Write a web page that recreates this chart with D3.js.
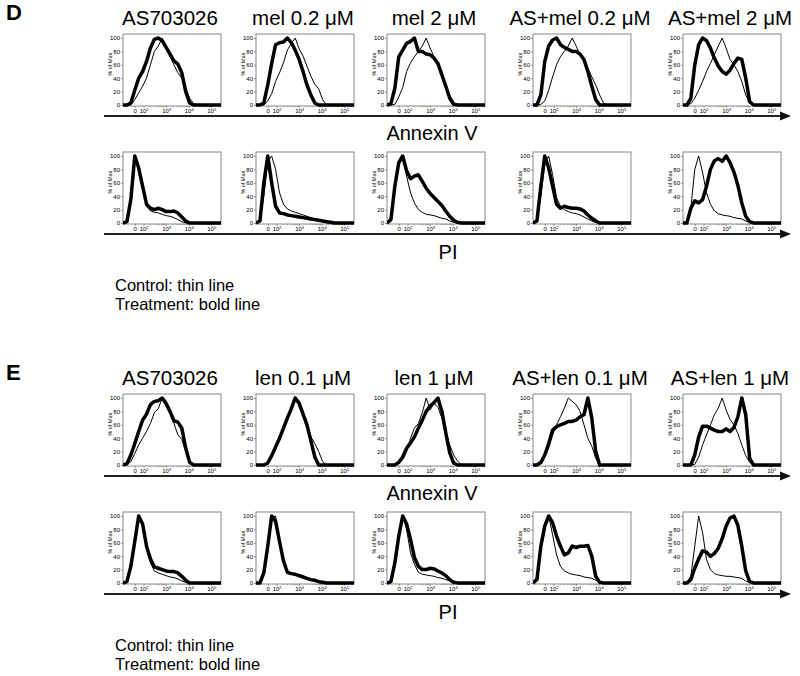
<!DOCTYPE html>
<html><head><meta charset="utf-8">
<script src="https://cdn.jsdelivr.net/npm/d3@7"></script>
<style>
body{margin:0;background:#fff}
svg{display:block}
text{font-family:"Liberation Sans",Arial,Helvetica,sans-serif;fill:#000}
</style>
</head><body>
<svg id="c" width="800" height="676"></svg>
<script>
// ---------- data ----------
const xGrid = [0,4,8,12,16,20,24,28,32,36,40,44,48,52,56,60,64,68,72,76,80,84,88,92,96,100]; // axis position, % of width
const yTicks = [0,20,40,60,80,100];
const xTickPos = [12,21,44,67,90];
const xTickExp = [null,2,3,4,5];
const blockLetters = ["D","E"];
const titlesD = ["AS703026","mel 0.2 \u03bcM","mel 2 \u03bcM","AS+mel 0.2 \u03bcM","AS+mel 2 \u03bcM"];
const titlesE = ["AS703026","len 0.1 \u03bcM","len 1 \u03bcM","AS+len 0.1 \u03bcM","AS+len 1 \u03bcM"];
const axisNames = ["Annexin V","PI"];
const legendLines = ["Control: thin line","Treatment: bold line"];

const dAnnexinTrt = [
 [0,0,3,22,40,50,65,85,98,100,96,86,76,66,61,48,20,3,0,0,0,0,0,0,0,0],
 [0,0,3,30,62,90,93,94,100,93,82,68,50,30,15,3,0,0,0,0,0,0,0,0,0,0],
 [0,2,25,72,82,92,95,100,80,80,76,75,70,62,45,28,10,1,0,0,0,0,0,0,0,0],
 [0,0,15,65,88,97,100,90,86,83,80,80,76,68,50,28,8,0,0,0,0,0,0,0,0,0],
 [0,0,10,60,90,100,96,85,70,58,50,46,52,62,70,68,40,5,0,0,0,0,0,0,0,0]];
const dAnnexinCtrl = [
 [0,0,0,8,18,28,40,60,80,88,100,84,72,60,48,40,25,10,2,0,0,0,0,0,0,0],
 [0,0,0,6,17,35,48,63,82,92,100,84,73,58,43,31,24,8,0,0,0,0,0,0,0,0],
 [0,0,1,12,26,50,63,72,80,88,100,85,72,58,47,30,15,4,0,0,0,0,0,0,0,0],
 [0,0,1,6,22,42,60,72,80,88,100,88,75,66,55,42,30,15,3,0,0,0,0,0,0,0],
 [0,0,2,10,22,35,50,62,75,88,100,85,68,60,50,35,15,3,0,0,0,0,0,0,0,0]];
const dPITrt = [
 [0,2,35,100,82,55,28,22,20,22,20,17,17,18,15,9,3,0,0,0,0,0,0,0,0,0],
 [0,3,60,100,60,25,15,14,12,11,10,9,8,7,6,5,4,3,2,1,0,0,0,0,0,0],
 [0,5,55,90,100,78,66,70,72,62,52,44,38,32,26,18,10,4,1,0,0,0,0,0,0,0],
 [0,3,55,100,82,55,28,22,25,23,22,22,21,18,12,7,3,0,0,0,0,0,0,0,0,0],
 [0,0,22,33,30,35,55,80,93,96,92,100,90,76,56,30,10,2,0,0,0,0,0,0,0,0]];
const dPICtrl = [
 [0,1,30,100,85,55,25,18,16,15,13,11,10,8,5,2,0,0,0,0,0,0,0,0,0,0],
 [0,2,40,92,100,80,45,28,21,18,16,14,12,10,8,6,5,4,3,2,1,0,0,0,0,0],
 [0,4,50,88,100,70,45,30,20,16,13,12,11,9,7,6,3,1,0,0,0,0,0,0,0,0],
 [0,2,40,88,100,72,38,25,20,17,15,14,12,9,6,3,1,0,0,0,0,0,0,0,0,0],
 [0,2,22,80,100,75,45,28,18,14,12,11,10,8,7,6,3,1,0,0,0,0,0,0,0,0]];
const eAnnexinTrt = [
 [0,2,15,32,50,67,76,90,95,96,100,92,80,66,64,55,25,4,0,0,0,0,0,0,0,0],
 [0,0,0,3,14,27,40,55,70,84,100,92,76,60,36,12,0,0,0,0,0,0,0,0,0,0],
 [0,0,0,4,12,25,33,42,55,67,80,88,93,100,80,48,18,3,0,0,0,0,0,0,0,0],
 [0,0,4,15,32,52,57,60,62,65,65,67,72,75,100,70,20,0,0,0,0,0,0,0,0,0],
 [0,0,0,15,42,58,58,55,52,50,50,54,50,56,72,100,75,10,0,0,0,0,0,0,0,0]];
const eAnnexinCtrl = [
 [0,0,5,17,30,40,50,62,78,84,100,88,76,62,45,38,20,6,0,0,0,0,0,0,0,0],
 [0,0,0,2,12,25,38,52,68,82,100,96,80,64,42,32,20,5,0,0,0,0,0,0,0,0],
 [0,0,0,2,8,20,40,55,62,78,100,82,92,86,70,50,30,15,6,0,0,0,0,0,0,0],
 [0,0,1,12,26,45,60,72,85,100,95,90,80,60,40,28,10,0,0,0,0,0,0,0,0,0],
 [0,0,0,1,12,30,45,60,75,85,100,82,68,60,47,30,14,4,0,0,0,0,0,0,0,0]];
const ePITrt = [
 [0,2,25,62,100,88,55,36,24,22,20,18,17,17,15,10,4,0,0,0,0,0,0,0,0,0],
 [0,0,15,55,100,92,62,33,16,14,13,11,9,7,5,4,2,1,0,0,0,0,0,0,0,0],
 [0,2,30,70,100,88,65,38,25,20,20,22,21,18,15,11,5,1,0,0,0,0,0,0,0,0],
 [0,5,55,85,100,90,70,55,42,45,55,53,55,55,56,40,10,1,0,0,0,0,0,0,0,0],
 [0,0,5,22,36,48,46,40,44,52,66,85,97,100,86,55,18,2,0,0,0,0,0,0,0,0]];
const ePICtrl = [
 [0,2,22,60,100,85,52,30,18,15,13,11,9,8,6,3,1,0,0,0,0,0,0,0,0,0],
 [0,0,14,52,98,100,64,34,17,14,12,10,8,6,5,3,2,1,0,0,0,0,0,0,0,0],
 [0,2,28,65,100,80,45,28,16,13,12,11,10,8,7,5,3,1,0,0,0,0,0,0,0,0],
 [0,10,55,90,100,72,42,25,18,15,13,12,11,9,8,7,4,1,0,0,0,0,0,0,0,0],
 [0,0,10,55,100,75,35,20,14,12,11,10,10,9,8,7,3,1,0,0,0,0,0,0,0,0]];

// ---------- layout ----------
const svg = d3.select("#c");
const panelLeft = [123,256,387,533,683];
const panelW = 98, panelH = 72;
const blockOffset = [0,360];
const rowTop = [34,152];
const arrowY = [116,234];
const axisNameX = [432,448];
const axisNameY = [140,259];

const blocks = [
  {titles:titlesD, rows:[[dAnnexinCtrl,dAnnexinTrt],[dPICtrl,dPITrt]]},
  {titles:titlesE, rows:[[eAnnexinCtrl,eAnnexinTrt],[ePICtrl,ePITrt]]}
];

let clipId = 0;
function drawPanel(g, x0, y0, ctrl, trt){
  const xs = d3.scaleLinear().domain([0,100]).range([x0, x0+panelW]);
  const ys = d3.scaleLinear().domain([0,100]).range([y0+panelH-1, y0+4]);
  const id = "clip"+(clipId++);
  g.append("clipPath").attr("id",id).append("rect")
    .attr("x",x0).attr("y",y0-1).attr("width",panelW).attr("height",panelH+2);
  g.append("rect").attr("x",x0).attr("y",y0).attr("width",panelW).attr("height",panelH)
    .attr("fill","none").attr("stroke","#8a8a8a").attr("stroke-width",1);

  const ya = g.append("g").attr("transform",`translate(${x0},0)`)
    .call(d3.axisLeft(ys).tickValues(yTicks).tickSize(2).tickPadding(1));
  ya.select(".domain").remove();
  ya.selectAll("line").attr("stroke","#555").attr("stroke-width",0.6);
  ya.selectAll("text").attr("font-size",6).attr("fill","#222")
    .style("font-family",'"Liberation Sans",Arial,sans-serif');
  g.append("text").attr("transform",`translate(${x0-11},${y0+panelH*0.42}) rotate(-90)`)
    .attr("text-anchor","middle").attr("font-size",5.5).attr("fill","#333").text("% of Max");

  const xa = g.append("g").attr("transform",`translate(0,${y0+panelH})`)
    .call(d3.axisBottom(xs).tickValues(xTickPos).tickSize(2).tickPadding(1).tickFormat(()=>""));
  xa.select(".domain").remove();
  xa.selectAll("line").attr("stroke","#555").attr("stroke-width",0.6);
  xa.selectAll(".tick text").each(function(d,i){
    const t = d3.select(this).attr("font-size",6).attr("fill","#222")
      .style("font-family",'"Liberation Sans",Arial,sans-serif');
    if(xTickExp[i]===null){ t.text("0"); }
    else {
      t.append("tspan").text("10");
      t.append("tspan").attr("font-size",4).attr("dy",-2.5).text(String(xTickExp[i]));
    }
  });
  const minor = [];
  for(let k=1;k<xTickPos.length-1;k++){
    for(let m=2;m<=9;m++) minor.push(xTickPos[k] + Math.log10(m)*(xTickPos[k+1]-xTickPos[k]));
  }
  g.selectAll(null).data(minor).enter().append("line")
    .attr("x1",d=>xs(d)).attr("x2",d=>xs(d))
    .attr("y1",y0+panelH).attr("y2",y0+panelH+1.2)
    .attr("stroke","#666").attr("stroke-width",0.5);

  const line = d3.line().x((d,i)=>xs(xGrid[i])).y(d=>ys(d)).curve(d3.curveLinear);
  const lg = g.append("g").attr("clip-path",`url(#${id})`);
  lg.append("path").datum(trt).attr("d",line).attr("fill","none")
    .attr("stroke","#000").attr("stroke-width",3.5).attr("stroke-linejoin","round");
  lg.append("path").datum(ctrl).attr("d",line).attr("fill","none")
    .attr("stroke","#000").attr("stroke-width",1).attr("stroke-linejoin","round");
}

blocks.forEach((b,bi)=>{
  const off = blockOffset[bi];
  const g = svg.append("g");
  g.append("text").attr("x",6).attr("y",20+off).attr("font-size",22)
    .attr("font-weight","bold").text(blockLetters[bi]);
  b.titles.forEach((t,i)=>{
    g.append("text").attr("x",panelLeft[i]+panelW/2-2).attr("y",25+off)
      .attr("text-anchor","middle").attr("font-size",20.5).text(t);
  });
  b.rows.forEach((r,ri)=>{
    const [ctrlArr,trtArr] = r;
    ctrlArr.forEach((c,i)=> drawPanel(g, panelLeft[i], rowTop[ri]+off, c, trtArr[i]));
    const ay = arrowY[ri]+off;
    g.append("line").attr("x1",104).attr("x2",782).attr("y1",ay).attr("y2",ay)
      .attr("stroke","#222").attr("stroke-width",2);
    g.append("path").attr("d",`M780,${ay-4.5} L791,${ay} L780,${ay+4.5} Z`).attr("fill","#111");
    g.append("text").attr("x",axisNameX[ri]).attr("y",axisNameY[ri]+off)
      .attr("text-anchor","middle").attr("font-size",20).text(axisNames[ri]);
  });
  legendLines.forEach((l,i)=>{
    g.append("text").attr("x",115).attr("y",291+off+i*19).attr("font-size",16.5).text(l);
  });
});
</script>
</body></html>
